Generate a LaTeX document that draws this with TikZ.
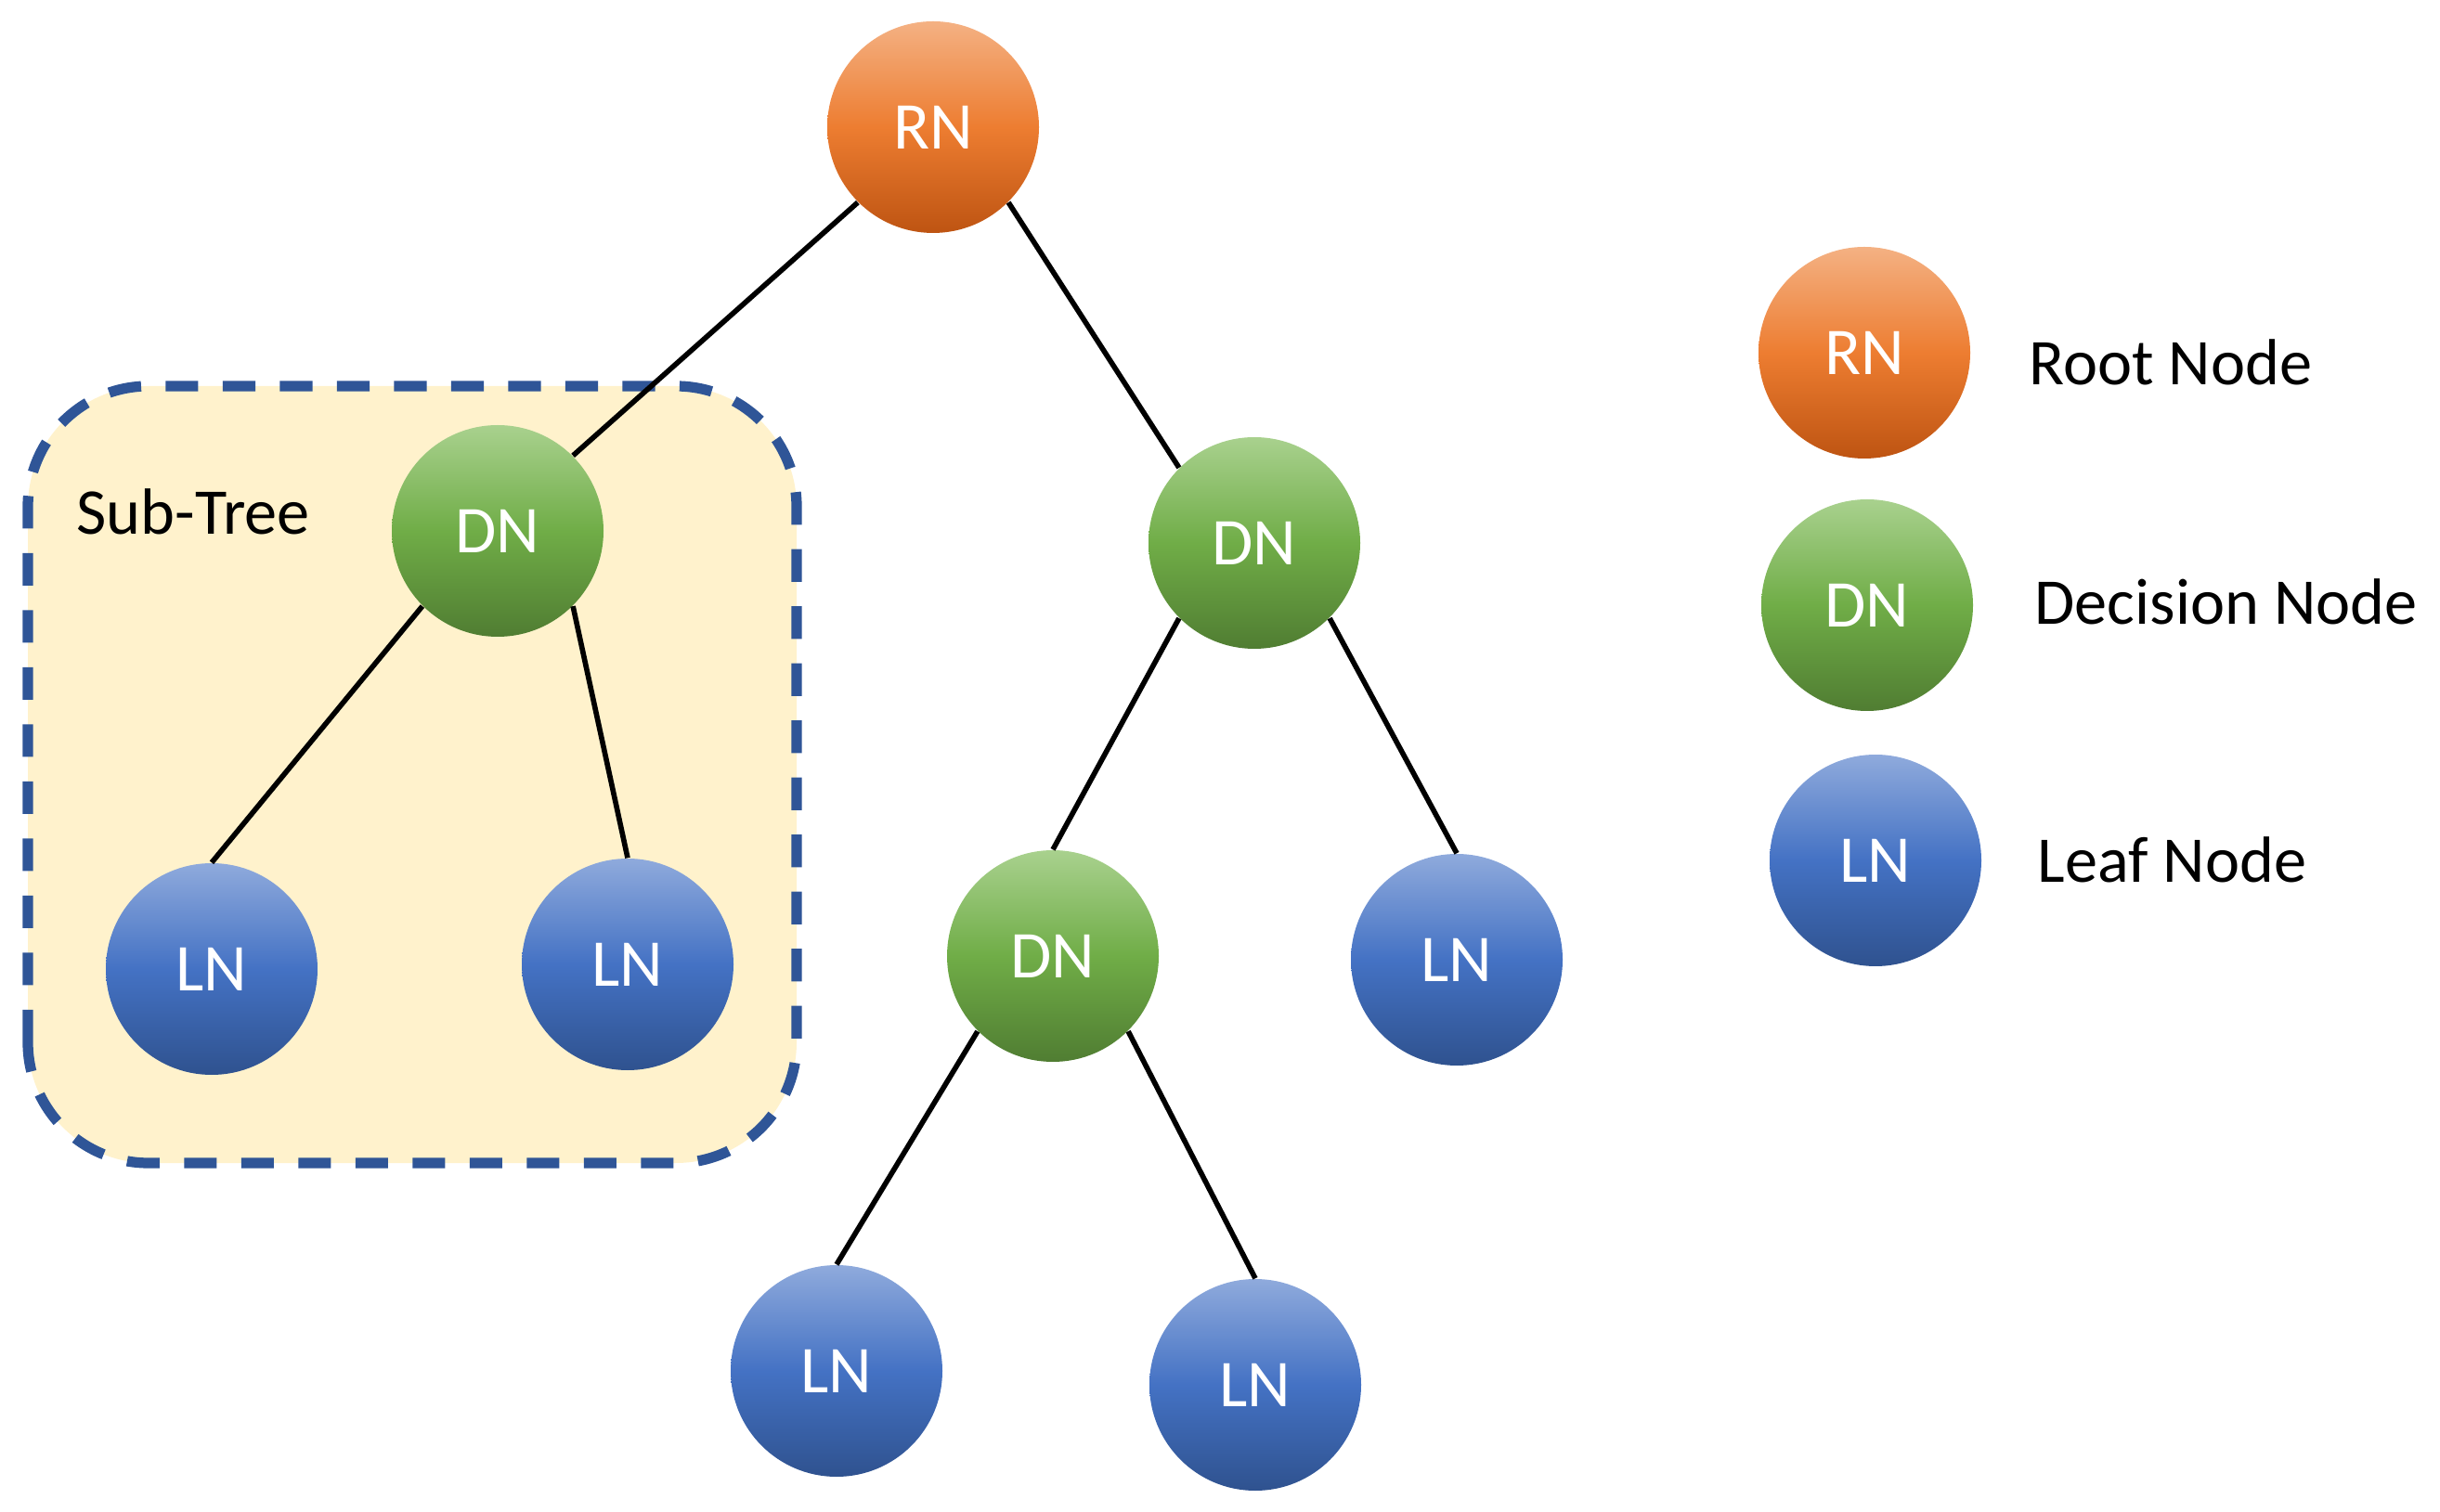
\documentclass[tikz,border=0pt]{standalone}
\usepackage{fontspec}
\setmainfont{Carlito}
\definecolor{rootlight}{RGB}{244,177,131}
\definecolor{rootmid}{RGB}{237,125,49}
\definecolor{rootdark}{RGB}{190,84,18}
\definecolor{decisionlight}{RGB}{169,209,142}
\definecolor{decisionmid}{RGB}{112,173,71}
\definecolor{decisiondark}{RGB}{80,125,50}
\definecolor{leaflight}{RGB}{143,170,220}
\definecolor{leafmid}{RGB}{68,114,196}
\definecolor{leafdark}{RGB}{47,82,143}
\definecolor{subtreefill}{RGB}{255,242,204}
\definecolor{subtreeline}{RGB}{47,85,151}
\tikzset{
  node-base/.style={
    circle,
    minimum size=2.28cm,
    inner sep=0pt,
    text=white,
    font=\fontsize{20.5}{24}\selectfont
  },
  node-root/.style={
    node-base,
    top color=rootlight, bottom color=rootdark, middle color=rootmid
  },
  node-decision/.style={
    node-base,
    top color=decisionlight, bottom color=decisiondark, middle color=decisionmid
  },
  node-leaf/.style={
    node-base,
    top color=leaflight, bottom color=leafdark, middle color=leafmid
  },
  edge/.style={line width=1.6pt, draw=black},
  subtree-box/.style={
    fill=subtreefill,
    draw=subtreeline,
    line width=3.2pt,
    dash pattern=on 10pt off 7.5pt,
    rounded corners=1.3cm
  },
  legend-text/.style={anchor=base west, inner sep=0pt, font=\fontsize{20}{24}\selectfont}
}

\begin{document}
\begin{tikzpicture}
  \useasboundingbox (0,0) rectangle (26.28,16.28);
  % Sub-tree frame
  \draw[subtree-box] (0.30,3.75) rectangle (8.58,12.12);
  \node[legend-text] (subtree) at (0.82,10.52) {Sub-Tree};
  % Tree
  \node[node-root] (rn) at (10.05,14.91) {RN};
  \node[node-decision] (dna) at (5.36,10.56) {DN};
  \node[node-decision] (dnb) at (13.51,10.43) {DN};
  \node[node-leaf] (lna) at (2.28,5.84) {LN};
  \node[node-leaf] (lnb) at (6.76,5.89) {LN};
  \node[node-decision] (dnc) at (11.34,5.98) {DN};
  \node[node-leaf] (lnc) at (15.69,5.94) {LN};
  \node[node-leaf] (lnd) at (9.01,1.51) {LN};
  \node[node-leaf] (lne) at (13.52,1.36) {LN};
  % Edges
  \draw[edge] (rn.south west) -- (dna.north east);
  \draw[edge] (rn.south east) -- (dnb.north west);
  \draw[edge] (dna.south west) -- (lna.north);
  \draw[edge] (dna.south east) -- (lnb.north);
  \draw[edge] (dnb.south west) -- (dnc.north);
  \draw[edge] (dnb.south east) -- (lnc.north);
  \draw[edge] (dnc.south west) -- (lnd.north);
  \draw[edge] (dnc.south east) -- (lne.north);
  % Legend
  \node[node-root] (key-rn) at (20.08,12.48) {RN};
  \node[node-decision] (key-dn) at (20.11,9.76) {DN};
  \node[node-leaf] (key-ln) at (20.20,7.01) {LN};
  \node[legend-text] (label-rn) at (21.85,12.13) {Root Node};
  \node[legend-text] (label-dn) at (21.91,9.55) {Decision Node};
  \node[legend-text] (label-ln) at (21.94,6.77) {Leaf Node};
\end{tikzpicture}
\end{document}
